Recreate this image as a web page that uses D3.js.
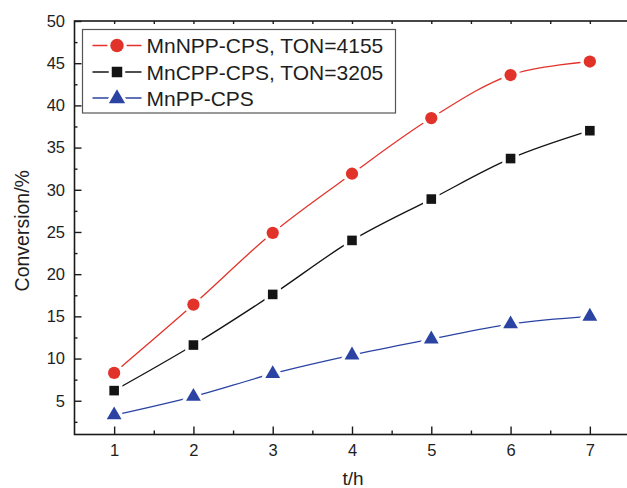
<!DOCTYPE html>
<html>
<head>
<meta charset="utf-8">
<script src="https://cdn.jsdelivr.net/npm/d3@7"></script>
<style>
  html, body { margin: 0; padding: 0; background: #fff; }
  svg { display: block; font-family: "Liberation Sans", Arial, Helvetica, sans-serif; }
</style>
</head>
<body>
<svg id="chart" width="627" height="488"></svg>
<script>
// Reaction time (h)
const hours = [1, 2, 3, 4, 5, 6, 7];
// Conversion (%) for each catalyst
const mnnppCps = [8.3, 16.4, 24.9, 31.9, 38.5, 43.6, 45.2];
const mncppCps = [6.2, 11.6, 17.6, 24.0, 28.9, 33.7, 37.0];
const mnppCps  = [3.3, 5.5, 8.2, 10.4, 12.3, 14.1, 15.0];

const seriesNames = ["MnNPP-CPS, TON=4155", "MnCPP-CPS, TON=3205", "MnPP-CPS"];
const xTickValues = [1, 2, 3, 4, 5, 6, 7];
const yTickValues = [5, 10, 15, 20, 25, 30, 35, 40, 45, 50];
const xTitle = "t/h";
const yTitle = "Conversion/%";

const series = [
  { name: seriesNames[0], values: mnnppCps, color: "#e2332a", symbol: d3.symbolCircle, size: 118 },
  { name: seriesNames[1], values: mncppCps, color: "#141414", symbol: d3.symbolSquare, size: 92 },
  { name: seriesNames[2], values: mnppCps,  color: "#2b44a3", symbol: d3.symbolTriangle, size: 95 }
];

const svg = d3.select("#chart");
const plotLeft = 74.5, plotRight = 629.5, plotTop = 21, plotBottom = 434.5;

const x = d3.scaleLinear().domain([0.5, 7.5]).range([plotLeft, plotRight]);
const y = d3.scaleLinear().domain([1, 50]).range([plotBottom, plotTop]);

const axisColor = "#1a1a1a";
const textColor = "#1e1e1e";

// plot frame
svg.append("rect")
  .attr("x", plotLeft).attr("y", plotTop)
  .attr("width", plotRight - plotLeft).attr("height", plotBottom - plotTop)
  .attr("fill", "none").attr("stroke", axisColor).attr("stroke-width", 1.6);

const xMinor = d3.range(1.5, 7.5, 1);
const yMinor = d3.range(2.5, 50, 5);

// bottom axis: ticks pointing inward
const gx = svg.append("g").attr("transform", `translate(0,${plotBottom})`);
gx.call(d3.axisBottom(x).tickValues(xTickValues).tickSize(-8).tickPadding(9.5).tickFormat(d3.format("d")));
gx.select(".domain").remove();
gx.append("g").call(d3.axisBottom(x).tickValues(xMinor).tickSize(-4).tickFormat(""))
  .select(".domain").remove();

// top axis: short inward ticks
const gxt = svg.append("g").attr("transform", `translate(0,${plotTop})`);
gxt.call(d3.axisTop(x).tickValues(xTickValues.concat(xMinor)).tickSize(-3).tickFormat(""));
gxt.select(".domain").remove();

// left axis
const gy = svg.append("g").attr("transform", `translate(${plotLeft},0)`);
gy.call(d3.axisLeft(y).tickValues(yTickValues).tickSize(-7).tickPadding(9.5).tickFormat(d3.format("d")));
gy.select(".domain").remove();
gy.append("g").call(d3.axisLeft(y).tickValues(yMinor).tickSize(-3).tickFormat(""))
  .select(".domain").remove();

svg.selectAll(".tick line").attr("stroke", axisColor).attr("stroke-width", 1.4);
svg.selectAll(".tick text").attr("fill", textColor).attr("font-size", 16.5)
  .attr("font-family", "'Liberation Sans', Arial, sans-serif");

// axis titles
svg.append("text")
  .attr("x", 353).attr("y", 484.5)
  .attr("text-anchor", "middle").attr("font-size", 19).attr("fill", textColor)
  .text(xTitle);
svg.append("text")
  .attr("transform", `translate(29,${(plotTop + plotBottom) / 2 + 3}) rotate(-90)`)
  .attr("text-anchor", "middle").attr("font-size", 19.5).attr("fill", textColor)
  .text(yTitle);

// smoothed curves
const line = d3.line()
  .x((d, i) => x(hours[i]))
  .y(d => y(d))
  .curve(d3.curveCatmullRom.alpha(0.5));

const plot = svg.append("g");
series.forEach(s => {
  plot.append("path")
    .attr("d", line(s.values))
    .attr("fill", "none")
    .attr("stroke", s.color)
    .attr("stroke-width", 1.3);
});

// markers with a white gap around them
series.forEach(s => {
  const sym = d3.symbol().type(s.symbol).size(s.size);
  const g = plot.append("g");
  g.selectAll("path.halo").data(s.values).join("path")
    .attr("class", "halo")
    .attr("transform", (d, i) => `translate(${x(hours[i])},${y(d)})`)
    .attr("d", sym)
    .attr("fill", "#fff").attr("stroke", "#fff").attr("stroke-width", 7)
    .attr("stroke-linejoin", "round");
  g.selectAll("path.mark").data(s.values).join("path")
    .attr("class", "mark")
    .attr("transform", (d, i) => `translate(${x(hours[i])},${y(d)})`)
    .attr("d", sym)
    .attr("fill", s.color);
});

// legend
const legend = svg.append("g");
legend.append("rect")
  .attr("x", 82.5).attr("y", 29.5).attr("width", 313).attr("height", 83.5)
  .attr("fill", "#fff").attr("stroke", "#555").attr("stroke-width", 1.2);

const rowY = [45.5, 72, 98];
series.forEach((s, i) => {
  const ry = rowY[i];
  legend.append("line")
    .attr("x1", 92.5).attr("x2", 141.5).attr("y1", ry).attr("y2", ry)
    .attr("stroke", s.color).attr("stroke-width", 1.3);
  const sym = d3.symbol().type(s.symbol).size(s.size * 1.2);
  legend.append("path")
    .attr("transform", `translate(117,${ry + (i === 2 ? 0.5 : 0)})`)
    .attr("d", sym).attr("fill", "#fff").attr("stroke", "#fff").attr("stroke-width", 6);
  legend.append("path")
    .attr("transform", `translate(117,${ry + (i === 2 ? 0.5 : 0)})`)
    .attr("d", sym).attr("fill", s.color);
  legend.append("text")
    .attr("x", 146.5).attr("y", ry + 7.6)
    .attr("font-size", 21).attr("fill", textColor)
    .text(s.name);
});
</script>
</body>
</html>
